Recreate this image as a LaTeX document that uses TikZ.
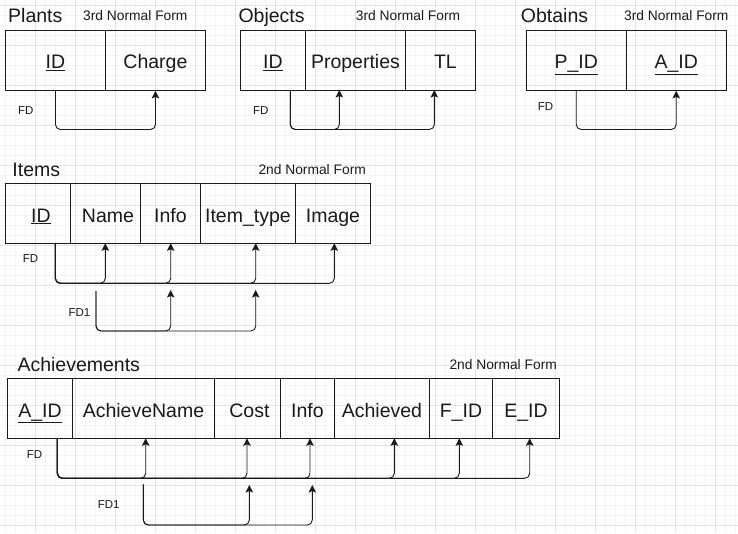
\documentclass[tikz,border=0pt]{standalone}
\usepackage{fontspec}
\setmainfont{Liberation Sans}
\usetikzlibrary{arrows.meta,calc}
\definecolor{gminor}{HTML}{F4F4F4}
\definecolor{gmajor}{HTML}{E4E4E4}
\definecolor{ink}{HTML}{1A1A1A}
\begin{document}
\begin{tikzpicture}[x=1pt,y=-1pt,
  cell/.style={draw=ink,line width=0.9pt,minimum height=60,inner sep=0,anchor=north west,
    text height=17pt,text depth=0pt,
    font=\fontsize{19.5}{22}\selectfont,text=ink},
  title/.style={anchor=base west,inner sep=0,font=\fontsize{19.5}{22}\selectfont,text=ink},
  nf/.style={anchor=base west,inner sep=0,font=\fontsize{13.8}{16}\selectfont,text=ink},
  fdlab/.style={anchor=west,inner sep=0,font=\fontsize{11.5}{13}\selectfont,text=ink},
  fd/.style={draw=ink,line width=0.9pt,rounded corners=5pt,
    -{Stealth[length=7.5pt,width=7.5pt,inset=1.5pt]}},
  minor/.style={draw=gminor,line width=0.6pt},
  major/.style={draw=gmajor,line width=0.8pt}]
\fill[white] (0,0) rectangle (738,533);
\useasboundingbox (0,0) rectangle (738,533);
% grid
\foreach \x in {5.5,15.5,...,735.5} \draw[minor] (\x,0) -- (\x,533);
\foreach \y in {5,15,...,530} \draw[minor] (0,\y) -- (738,\y);
\foreach \x in {35.5,75.5,...,735.5} \draw[major] (\x,0) -- (\x,533);
\foreach \y in {5,45,...,530} \draw[major] (0,\y) -- (738,\y);

% ---------------- Plants
\node[title] (tplants) at (8,22) {Plants};
\node[nf] (nfplants) at (83,20.7) {3rd Normal Form};
\node[cell,minimum width=100] (pid) at (5,30) {\underline{ID}};
\node[cell,minimum width=100] (pch) at (105,30) {Charge};
\node[fdlab] (pfd) at (18,110.7) {FD};
\coordinate (py) at (0,129.5);
\draw[fd] (pid.south) -- (pid.south |- py) -| (pch.south);

% ---------------- Objects
\node[title] (tobj) at (238.3,22) {Objects};
\node[nf] (nfobj) at (355.7,20.7) {3rd Normal Form};
\node[cell,minimum width=65] (oid) at (240,30) {\underline{ID}};
\node[cell,minimum width=100] (oprop) at (305,30) {Properties};
\node[cell,minimum width=70] (otl) at (405,30) {\hspace{10pt}TL};
\node[fdlab] (ofd) at (253,110.7) {FD};
\coordinate (os) at (290.3,90);
\coordinate (oe1) at (339.3,90);
\coordinate (oe2) at (434.3,90);
\draw[fd] (os) -- (os |- py) -| (oe1);
\draw[fd] (os) -- (os |- py) -| (oe2);

% ---------------- Obtains
\node[title] (tobt) at (520.7,22) {Obtains};
\node[nf] (nfobt) at (624,20.7) {3rd Normal Form};
\node[cell,minimum width=99.5] (bpid) at (526,30) {\underline{P\_ID}};
\node[cell,minimum width=100.5] (baid) at (625.5,30) {\underline{A\_ID}};
\node[fdlab] (bfd) at (537.7,106.7) {FD};
\draw[fd] (bpid.south) -- (bpid.south |- py) -| (baid.south);

% ---------------- Items
\node[title] (titems) at (12.3,176) {Items};
\node[nf] (nfitems) at (258.3,174.3) {2nd Normal Form};
\node[cell,minimum width=65] (iid) at (5,183.3) {\hspace{6pt}\underline{ID}};
\node[cell,minimum width=70] (iname) at (70,183.3) {\hspace{5pt}Name};
\node[cell,minimum width=60] (iinfo) at (140,183.3) {Info};
\node[cell,minimum width=95] (itype) at (200,183.3) {Item\_type};
\node[cell,minimum width=75] (iimg) at (295,183.3) {Image};
\node[fdlab] (ifd) at (22.7,259) {FD};
\node[fdlab] (ifd1) at (68.3,312.3) {FD1};
\coordinate (iy) at (0,283.3);
\coordinate (is) at (55.3,243.3);
\foreach \ex in {105.3,170.7,255.7,334.3}{
  \draw[fd] (is) -- (is |- iy) -| (\ex,243.3);
}
\coordinate (is1) at (96,291);
\coordinate (iy1) at (0,331);
\foreach \ex in {170.7,255.7}{
  \draw[fd] (is1) -- (is1 |- iy1) -| (\ex,290);
}

% ---------------- Achievements
\node[title] (tach) at (17.3,371) {Achievements};
\node[nf] (nfach) at (449.3,369.3) {2nd Normal Form};
\node[cell,minimum width=65] (aid) at (7,378.3) {\underline{A\_ID}};
\node[cell,minimum width=142] (aname) at (72,378.3) {AchieveName};
\node[cell,minimum width=66] (acost) at (214,378.3) {\hspace{4pt}Cost};
\node[cell,minimum width=54] (ainfo) at (280,378.3) {Info};
\node[cell,minimum width=95] (aach) at (334,378.3) {Achieved};
\node[cell,minimum width=63] (afid) at (429,378.3) {F\_ID};
\node[cell,minimum width=67] (aeid) at (492,378.3) {E\_ID};
\node[fdlab] (afd) at (26.7,454.3) {FD};
\node[fdlab] (afd1) at (97.7,504.3) {FD1};
\coordinate (ay) at (0,478.3);
\coordinate (as) at (57.3,438.3);
\foreach \ex in {145.7,247,310,394.3,459.3,529.7}{
  \draw[fd] (as) -- (as |- ay) -| (\ex,438.3);
}
\coordinate (as1) at (143.3,484.3);
\coordinate (ay1) at (0,525);
\foreach \ex in {249.3,312.3}{
  \draw[fd] (as1) -- (as1 |- ay1) -| (\ex,485);
}
\end{tikzpicture}
\end{document}
